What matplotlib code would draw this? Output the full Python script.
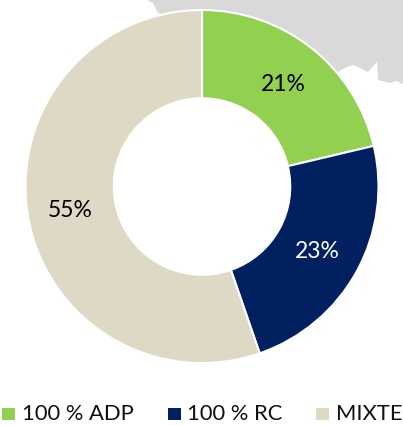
import matplotlib
matplotlib.use("Agg")
import matplotlib.pyplot as plt
from matplotlib.patches import Polygon, Rectangle

categories = ["100 % ADP", "100 % RC", "MIXTE"]
values = [21.3, 23.4, 55.3]
labels = ["21%", "23%", "55%"]
colors = ["#92D050", "#002060", "#DDD9C4"]
label_colors = ["black", "white", "black"]
map_outline = [(147, 0), (153, 3), (158, 13), (202, 30), (338, 72), (345, 68), (353, 65),
               (360, 68), (368, 72), (377, 62), (378, 80), (390, 83), (396, 81), (403, 84), (403, 0)]

W, H = 403, 425
plt.rcParams["font.family"] = ["Lato", "DejaVu Sans"]
fig = plt.figure(figsize=(W / 100, H / 100), dpi=100)


def overlay(z):
    a = fig.add_axes([0, 0, 1, 1], zorder=z)
    a.set_xlim(0, W)
    a.set_ylim(H, 0)
    a.axis("off")
    a.patch.set_alpha(0)
    return a


under = overlay(0)
under.add_patch(Polygon(map_outline, closed=True, fc="#D9D9D9", ec="none"))

cx, cy, R = 202, 186.5, 176.5
ax = fig.add_axes([(cx - R) / W, 1 - (cy + R) / H, 2 * R / W, 2 * R / H], zorder=1)
wedges, _ = ax.pie(values, colors=colors, startangle=90, counterclock=False, radius=1,
                   wedgeprops=dict(width=0.5, edgecolor="white", linewidth=1.5))
ax.set_xlim(-1, 1)
ax.set_ylim(-1, 1)
ax.set_aspect("equal")
ax.axis("off")
ax.patch.set_alpha(0)

top = overlay(2)
label_pos = [(283, 84), (317.5, 252), (70.5, 210.5)]
for (x, y), t, c in zip(label_pos, labels, label_colors):
    top.text(x, y, t, color=c, fontsize=16.5, ha="center", va="center")

leg_sq = [(2, 408), (168, 408), (316, 408)]
leg_tx = [22, 187, 336]
for (x, y), tx, col, name in zip(leg_sq, leg_tx, colors, categories):
    top.add_patch(Rectangle((x, y), 13, 12, fc=col, ec="none"))
    top.text(tx, 413.5, name, color="#111111", fontsize=15.8, ha="left", va="center")

fig.savefig("out.png", dpi=100)
